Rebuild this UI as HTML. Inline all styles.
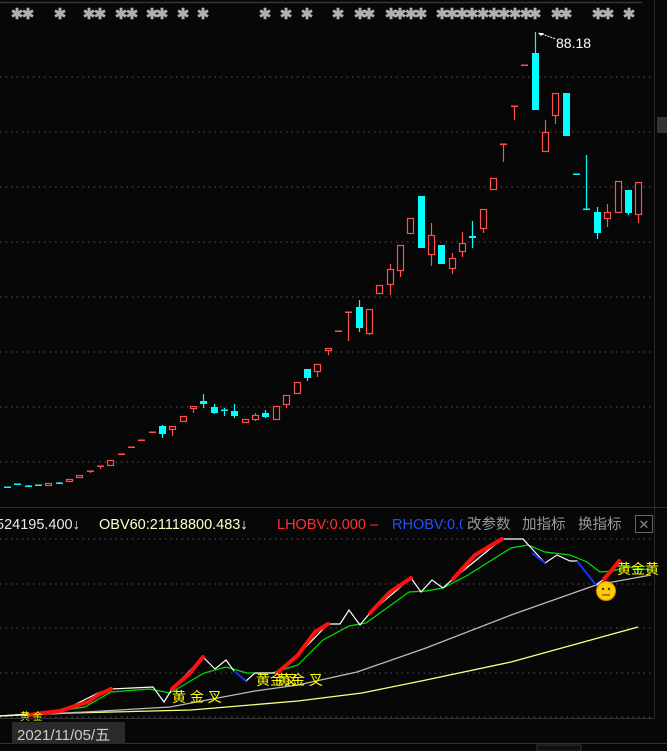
<!DOCTYPE html>
<html><head><meta charset="utf-8"><style>
html,body{margin:0;padding:0;background:#070707;width:667px;height:751px;overflow:hidden}
svg{display:block}
text{font-family:"Liberation Sans","Noto Sans CJK SC",sans-serif}
</style></head><body>
<svg id="s" width="667" height="751" viewBox="0 0 667 751" xmlns="http://www.w3.org/2000/svg">
<rect width="667" height="751" fill="#070707"/>
<line x1="0" y1="2.5" x2="642" y2="2.5" stroke="#333" stroke-width="1.5"/>
<line x1="654.5" y1="0" x2="654.5" y2="718" stroke="#2a2a2a" stroke-width="1"/>
<rect x="657" y="117" width="10" height="16" fill="#333"/>
<g stroke="#555" stroke-dasharray="1.5,4" stroke-width="1">
<line x1="0" y1="77" x2="654" y2="77"/><line x1="0" y1="132" x2="654" y2="132"/><line x1="0" y1="187" x2="654" y2="187"/><line x1="0" y1="242" x2="654" y2="242"/><line x1="0" y1="297" x2="654" y2="297"/><line x1="0" y1="352" x2="654" y2="352"/><line x1="0" y1="407" x2="654" y2="407"/><line x1="0" y1="462" x2="654" y2="462"/>
<line x1="0" y1="539" x2="654" y2="539"/><line x1="0" y1="584" x2="654" y2="584"/><line x1="0" y1="628" x2="654" y2="628"/><line x1="0" y1="673" x2="654" y2="673"/><line x1="0" y1="717" x2="654" y2="717"/>
</g>
<g id="stars" fill="#b0b0b0" font-size="15" font-weight="bold" text-anchor="middle"></g>
<g id="candles"></g>
<line x1="539" y1="33" x2="556" y2="39" stroke="#fff" stroke-width="1" stroke-dasharray="2,1"/>
<path d="M538,33 l6,0 l-3,3z" fill="#fff"/>
<text x="556" y="48" fill="#fff" font-size="14">88.18</text>
<line x1="0" y1="507.5" x2="667" y2="507.5" stroke="#2a2a2a"/>
<g font-size="14.5">
<text x="-4" y="529" fill="#e8e8e8">524195.400↓</text>
<text x="99" y="529" fill="#ffffc8">OBV60:21118800.483↓</text>
<text x="277" y="529" fill="#ff3030">LHOBV:0.000 –</text>
<text x="392" y="529" fill="#2050ff">RHOBV:0.0</text>
<rect x="463" y="512" width="190" height="24" fill="#070707"/>
<text x="467" y="529" fill="#999">改参数</text>
<text x="522" y="529" fill="#999">加指标</text>
<text x="578" y="529" fill="#999">换指标</text>
</g>
<rect x="635.5" y="515.5" width="17" height="17" fill="none" stroke="#666"/>
<text x="644" y="529" fill="#888" font-size="13" text-anchor="middle">✕</text>
<polyline fill="none" stroke="#ffff80" stroke-width="1.3" points="0,716 72,713 191,710 298,701 362,693 426,680 511,662 638,627"/>
<polyline fill="none" stroke="#bbb" stroke-width="1.3" points="0,716 85,712 170,707 255,691 298,685 357,672 426,648 511,615 596,585 651,575"/>
<polyline fill="none" stroke="#00e000" stroke-width="1.2" points="0,716 43,713 85,707 111,692 149,689 170,693 204,673 226,667 247,673 272,673 298,665 323,640 349,626 366,623 409,592 426,591 443,588 468,575 511,548 528,545 545,552 570,555 587,562 600,572 613,571 626,567 651,570"/>
<polyline fill="none" stroke="#fff" stroke-width="1.2" points="0,716 43,713 60,712 98,693 111,689 153,687 164,702 172,689 203,657 215,669 226,660 234,671 246,681 255,673 277,673 298,655 328,624 340,624 349,610 360,625 370,613 411,578 421,592 432,580 443,588 453,579 502,539 523,539 545,563 557,555 570,561 577,561 596,585 604,579 619,561"/>
<g fill="none" stroke="#ff1010" stroke-width="4" stroke-linecap="round">
<polyline points="30,715 43,713 60,711 75,706 88,702 98,695 111,689"/>
<polyline points="172,689 190,673 203,657"/>
<polyline points="277,673 290,662 298,655 315,632 328,624"/>
<polyline points="370,613 390,592 411,578"/>
<polyline points="453,579 475,555 502,539"/>
<polyline points="604,579 612,570 619,561"/>
</g>
<g fill="none" stroke="#1530ff" stroke-width="2">
<polyline points="234,671 246,681"/>
<polyline points="532,553 545,563"/>
<polyline points="577,561 596,585"/>
</g>
<g fill="#ffff00" font-size="14">
<text x="172" y="702">黄 金 叉</text>
<text x="256" y="685">黄金叉</text>
<text x="277" y="685">黄金 叉</text>
<text x="617" y="574">黄金黄</text>
<text x="20" y="720" font-size="10">黄 金</text>
</g>
<circle cx="606" cy="591" r="9.5" fill="#ffcc00" stroke="#e08000"/>
<circle cx="603" cy="589" r="1.2" fill="#333"/><circle cx="609" cy="589" r="1.2" fill="#333"/>
<line x1="602" y1="595" x2="610" y2="595" stroke="#333"/>
<line x1="0" y1="718.5" x2="654" y2="718.5" stroke="#333"/>
<line x1="0" y1="743.5" x2="667" y2="743.5" stroke="#333"/>
<rect x="12" y="722" width="113" height="22" fill="#2a2a2a"/>
<text x="17" y="740" fill="#ccc" font-size="15">2021/11/05/五</text>
<rect x="537" y="745" width="44" height="6" fill="#101010" stroke="#333"/>
</svg>
<script>
var ns="http://www.w3.org/2000/svg";
var st=[17,28,60,89,100,121,132,152,162,183,203,265,286,307,338,360,369,391,400,411,421,442,452,462,472,483,494,504,515,526,535,557,566,598,608,629];
var sg=document.getElementById("stars");
st.forEach(function(x){var t=document.createElementNS(ns,"text");t.setAttribute("x",x);t.setAttribute("y",19);t.textContent="✱";sg.appendChild(t);});
var C=[[7,'c',487,487],[17,'c',484,484],[28,'c',486,486,485,487],[38,'c',485,485],[48,'r',483,486],[59,'c',483,483,482,483],[69,'r',479,482],[79,'r',475,478],[90,'r',471,471,471,473],[100,'r',466,466,466,469],[110,'r',460,466],[121,'r',454,454],[131,'r',447,447],[141,'r',440,440],[152,'r',432,432],[162,'c',426,434,425,438],[172,'r',426,430,426,436],[183,'r',416,422],[193,'r',406,409,406,413],[203,'c',401,404,394,408],[214,'c',407,413,404,414],[224,'c',410,410,408,416],[234,'c',411,416,404,418],[245,'r',419,423],[255,'r',415,420,413,421],[265,'c',413,417,410,418],[276,'r',406,420],[286,'r',395,405,395,408],[297,'r',382,394],[307,'c',369,378,369,381],[317,'r',364,372,364,377],[328,'r',348,351,348,355],[338,'r',331,331],[348,'r',312,312,312,341],[359,'c',307,328,300,332],[369,'r',309,334,309,335],[379,'r',285,294],[390,'r',269,285,264,295],[400,'r',245,271,245,277],[410,'r',218,234],[421,'c',196,248],[431,'r',235,255,223,266],[441,'c',245,264],[452,'r',258,269,253,274],[462,'r',243,252,232,257],[472,'c',236,238,221,248],[483,'r',209,229,209,233],[493,'r',178,190],[503,'r',144,144,144,162],[514,'r',106,106,106,120],[524,'r',65,65],[535,'c',53,110,32,110],[545,'r',132,152,120,152],[555,'r',93,116,93,124],[566,'c',93,136],[576,'c',174,174],[586,'c',209,209,155,209],[597,'c',212,233,207,239],[607,'r',212,219,204,227],[618,'r',181,213],[628,'c',190,213,190,215],[638,'r',182,215,182,223]];
var g=document.getElementById("candles");
function el(n,a){var e=document.createElementNS(ns,n);for(var k in a)e.setAttribute(k,a[k]);g.appendChild(e);}
C.forEach(function(c){
 var x=c[0],col=c[1]=='r'?'#ff5050':'#00ffff',t=c[2],b=c[3];
 if(c.length>4) el("line",{x1:x+.5,x2:x+.5,y1:c[4],y2:c[5],stroke:col,"stroke-width":1.2});
 if(b-t<1.5){el("rect",{x:x-3,y:t-0.5,width:7,height:1.5,fill:col});}
 else if(c[1]=='c'){el("rect",{x:x-3,y:t,width:7,height:b-t,fill:col});}
 else {el("rect",{x:x-2.5,y:t+0.5,width:6,height:b-t-1,fill:"#070707",stroke:col,"stroke-width":1.2});}
});
</script>
</body></html>
